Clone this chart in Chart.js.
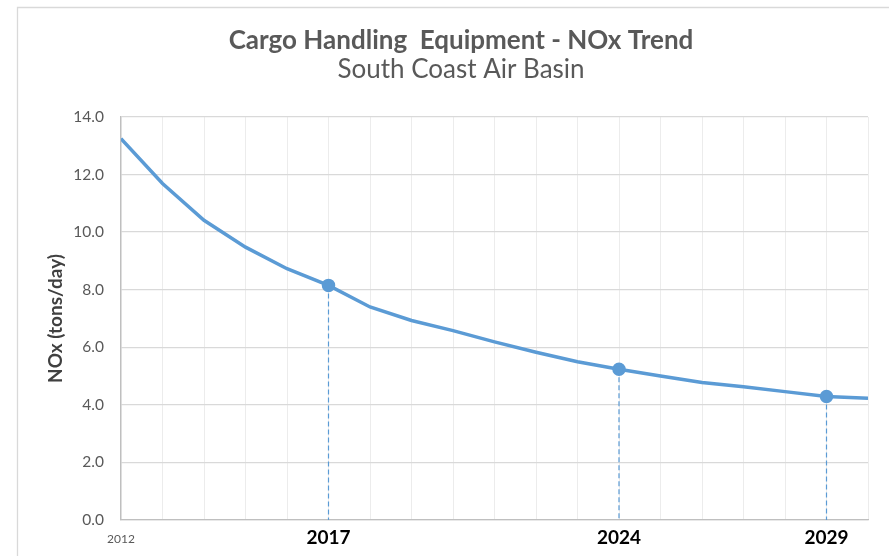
<!DOCTYPE html>
<html>
<head>
<meta charset="utf-8">
<script src="https://cdn.jsdelivr.net/npm/chart.js@4/dist/chart.umd.min.js"></script>
<style>
  html, body { margin: 0; padding: 0; background: #fff; }
  #wrap { width: 889px; height: 556px; position: relative; }
</style>
</head>
<body>
<div id="wrap"><canvas id="c" width="889" height="556"></canvas></div>
<script>
const years = [2012, 2013, 2014, 2015, 2016, 2017, 2018, 2019, 2020, 2021, 2022, 2023, 2024, 2025, 2026, 2027, 2028, 2029, 2030];
const noxValues = [13.25, 11.69, 10.41, 9.48, 8.73, 8.15, 7.40, 6.93, 6.58, 6.19, 5.83, 5.50, 5.24, 5.00, 4.78, 4.63, 4.46, 4.29, 4.23];
const markedYears = [2017, 2024, 2029];
const firstYearLabel = 2012;
const yTicks = [0, 2, 4, 6, 8, 10, 12, 14];
const titleText = 'Cargo Handling  Equipment - NOx Trend';
const subtitleText = 'South Coast Air Basin';
const yAxisTitle = 'NOx (tons/day)';

const BLUE = '#5B9BD5';
const FONT = 'Lato, "Open Sans", sans-serif';

const mainData = years.map((y, i) => ({ x: y, y: noxValues[i] }));
const dropDatasets = markedYears.map(yr => {
  const v = noxValues[years.indexOf(yr)];
  return {
    label: 'drop ' + yr,
    data: [{ x: yr, y: v }, { x: yr, y: 0 }],
    borderColor: BLUE,
    borderWidth: 1.2,
    borderDash: [5, 3],
    pointRadius: 0,
    fill: false,
    order: 2
  };
});

const framePlugin = {
  id: 'frame',
  beforeDraw(chart) {
    const ctx = chart.ctx;
    ctx.save();
    ctx.fillStyle = '#fff';
    ctx.fillRect(0, 0, chart.width, chart.height);
    ctx.strokeStyle = '#d9d9d9';
    ctx.lineWidth = 1.3;
    ctx.beginPath();
    ctx.moveTo(17.5, chart.height + 2);
    ctx.lineTo(17.5, 7.5);
    ctx.lineTo(chart.width + 2, 7.5);
    ctx.stroke();
    ctx.restore();
  }
};

new Chart(document.getElementById('c'), {
  type: 'line',
  data: {
    datasets: [
      {
        label: 'NOx',
        data: mainData,
        borderColor: BLUE,
        backgroundColor: BLUE,
        borderWidth: 3.5,
        tension: 0,
        pointRadius: ctx => markedYears.includes(ctx.raw && ctx.raw.x) ? 5 : 0,
        pointHoverRadius: 0,
        pointBackgroundColor: BLUE,
        pointBorderColor: BLUE,
        fill: false,
        order: 1
      },
      ...dropDatasets
    ]
  },
  options: {
    responsive: false,
    animation: false,
    events: [],
    layout: { padding: { left: 54, right: 21, top: 8, bottom: 0 } },
    plugins: {
      legend: { display: false },
      tooltip: { enabled: false },
      title: {
        display: true,
        text: titleText,
        color: '#595959',
        font: { family: FONT, size: 26, weight: 'bold', lineHeight: 1.05 },
        padding: { top: 19.35, bottom: 0 }
      },
      subtitle: {
        display: true,
        text: subtitleText,
        color: '#595959',
        font: { family: FONT, size: 26, weight: 'normal', lineHeight: 1.05 },
        padding: { top: 1.2, bottom: 33.85 }
      }
    },
    scales: {
      x: {
        type: 'linear',
        min: 2012,
        max: 2030,
        afterFit: s => { s.height = 36; },
        afterBuildTicks: s => { s.ticks = years.map(v => ({ value: v })); },
        grid: { color: '#ececec', lineWidth: 1, drawTicks: false },
        border: { color: '#bfbfbf', width: 1.3 },
        ticks: {
          autoSkip: false,
          maxRotation: 0,
          padding: 7,
          callback: v => (v === firstYearLabel || markedYears.includes(v)) ? String(v) : '',
          color: ctx => ctx.tick && ctx.tick.value === firstYearLabel ? '#595959' : '#000000',
          font: ctx => (ctx.tick && ctx.tick.value === firstYearLabel)
            ? { family: FONT, size: 12, weight: 'normal', lineHeight: 2.05 }
            : { family: FONT, size: 19, weight: 'bold', lineHeight: 1.15 }
        }
      },
      y: {
        min: 0,
        max: 14,
        afterFit: s => { s.width = 67; },
        afterBuildTicks: s => { s.ticks = yTicks.map(v => ({ value: v })); },
        grid: { color: '#d9d9d9', lineWidth: 1.3, drawTicks: false },
        border: { color: '#bfbfbf', width: 1.3 },
        ticks: {
          padding: 17,
          color: '#595959',
          font: { family: FONT, size: 15.5 },
          callback: v => v.toFixed(1)
        },
        title: {
          display: true,
          text: yAxisTitle,
          color: '#404040',
          font: { family: FONT, size: 19, weight: 'bold' },
          padding: { top: -9.4, bottom: 0 }
        }
      }
    }
  },
  plugins: [framePlugin]
});
</script>
</body>
</html>
